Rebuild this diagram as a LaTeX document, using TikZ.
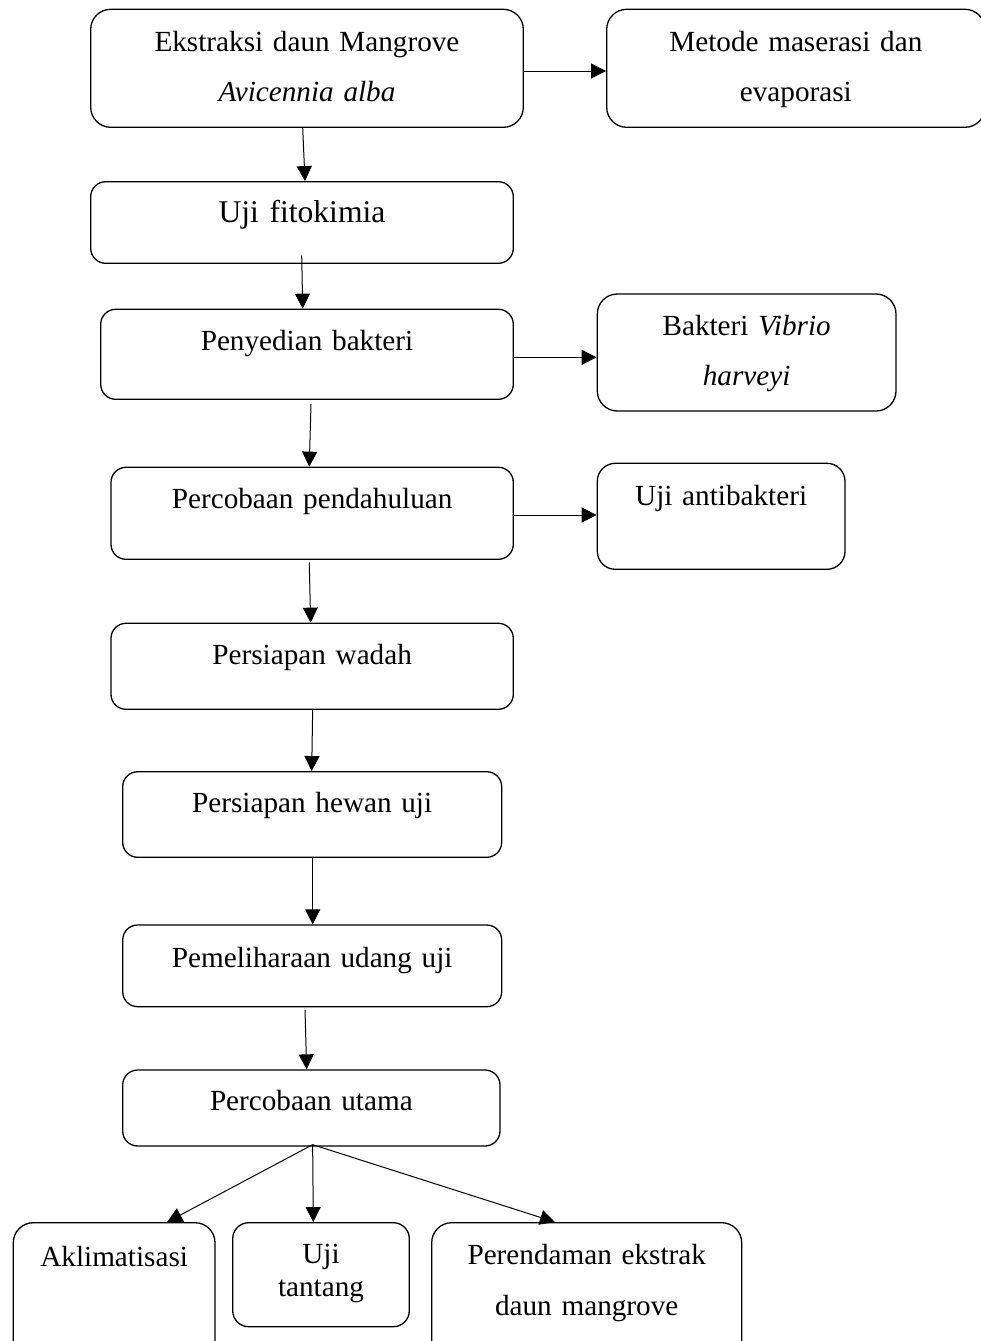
\documentclass[tikz,border=0pt]{standalone}
\usepackage{fontspec}
\setmainfont{Liberation Serif}
\usetikzlibrary{arrows.meta}

\begin{document}
\begin{tikzpicture}[
  x=1pt, y=-1pt,
  stage/.style={draw, line width=1.3pt, rounded corners=15pt, inner sep=0pt, align=center,
    font=\fontsize{29.2}{50}\selectfont},
  flow/.style={line width=1pt, -{Triangle[length=15pt, width=15pt]}},
]
  \useasboundingbox (0,0) rectangle (981,1341);

  % main column
  \node[stage, rounded corners=20pt, text width=432.6pt, text height=42.4pt, text depth=75.6pt]
    (ekstrak) at (307,68.3) {Ekstraksi daun Mangrove\\\textit{Avicennia alba}};
  \node[stage, text width=422.6pt, text height=41pt, text depth=40.6pt, font=\fontsize{31.6}{50}\selectfont]
    (fito) at (302,222.5) {Uji fitokimia};
  \node[stage, text width=412.6pt, text height=41.4pt, text depth=48.6pt]
    (bakteri) at (307,354.3) {Penyedian bakteri};
  \node[stage, text width=402.3pt, text height=41pt, text depth=51pt]
    (pendahuluan) at (312.15,513.3) {Percobaan pendahuluan};
  \node[stage, text width=402.3pt, text height=40.7pt, text depth=45.3pt]
    (wadah) at (312.15,666.3) {Persiapan wadah};
  \node[stage, text width=379pt, text height=40.6pt, text depth=45pt]
    (hewan) at (312.2,814.5) {Persiapan hewan uji};
  \node[stage, text width=379pt, text height=42.3pt, text depth=39.4pt]
    (pemeliharaan) at (312.2,965.85) {Pemeliharaan udang uji};
  \node[stage, text width=377.3pt, text height=40pt, text depth=36pt]
    (utama) at (311.35,1108) {Percobaan utama};

  % side boxes
  \node[stage, rounded corners=20pt, text width=378.3pt, text height=42.4pt, text depth=75.6pt]
    (metode) at (795.85,68.3) {Metode maserasi dan\\evaporasi};
  \node[stage, rounded corners=20pt, text width=298.7pt, text height=41pt, text depth=76pt]
    (vibrio) at (746.65,352.5) {Bakteri \textit{Vibrio}\\\textit{harveyi}};
  \node[stage, rounded corners=18pt, text width=247.7pt, text height=41.7pt, text depth=64.3pt]
    (antibakteri) at (721.15,516.3) {Uji antibakteri};

  % bottom row
  \node[stage, rounded corners=20pt, text width=201.7pt, text height=43.3pt, text depth=104pt]
    (aklim) at (114.15,1296.35) {Aklimatisasi};
  \node[stage, rounded corners=16pt, text width=176.6pt, text height=40.6pt, text depth=63.4pt,
    font=\fontsize{29.2}{33.4}\selectfont]
    (tantang) at (321,1274.7) {Uji\\tantang};
  \node[stage, rounded corners=20pt, text width=310pt, text height=41.3pt, text depth=106pt,
    font=\fontsize{29.2}{51}\selectfont]
    (rendam) at (586.7,1296.35) {Perendaman ekstrak\\daun mangrove};

  % arrows down the column
  \draw[flow] ([xshift=-4.3pt]ekstrak.south) -- ([xshift=3pt]fito.north);
  \draw[flow] ([xshift=-0.3pt, yshift=8.3pt]fito.south) -- ([xshift=-4.3pt]bakteri.north);
  \draw[flow] ([xshift=4pt, yshift=-4pt]bakteri.south) -- ([xshift=-2.9pt]pendahuluan.north);
  \draw[flow] ([xshift=-2.9pt, yshift=-2.4pt]pendahuluan.south) -- ([xshift=-1.5pt]wadah.north);
  \draw[flow] ([xshift=0.5pt]wadah.south) -- ([xshift=-0.5pt]hewan.north);
  \draw[flow] ([xshift=0.5pt]hewan.south) -- ([xshift=0.5pt]pemeliharaan.north);
  \draw[flow] ([xshift=-7.2pt, yshift=-2.6pt]pemeliharaan.south) -- ([xshift=-4.7pt]utama.north);

  % arrows to the side
  \draw[flow] ([yshift=-2.7pt]ekstrak.east) -- ([yshift=-2.7pt]ekstrak.east -| metode.west);
  \draw[flow] ([yshift=-3pt]bakteri.east) -- ([yshift=-3pt]bakteri.east -| vibrio.west);
  \draw[flow] ([yshift=-1.7pt]pendahuluan.east) -- ([yshift=-1.7pt]pendahuluan.east -| antibakteri.west);

  % fork to the three steps
  \coordinate (fork) at ([xshift=1.3pt, yshift=2pt]utama.south);
  \draw[flow] (fork) -- ([xshift=53pt]aklim.north);
  \draw[flow] (fork) -- ([xshift=-7.7pt]tantang.north);
  \draw[flow] (fork) -- ([xshift=-31.7pt]rendam.north);
\end{tikzpicture}
\end{document}
